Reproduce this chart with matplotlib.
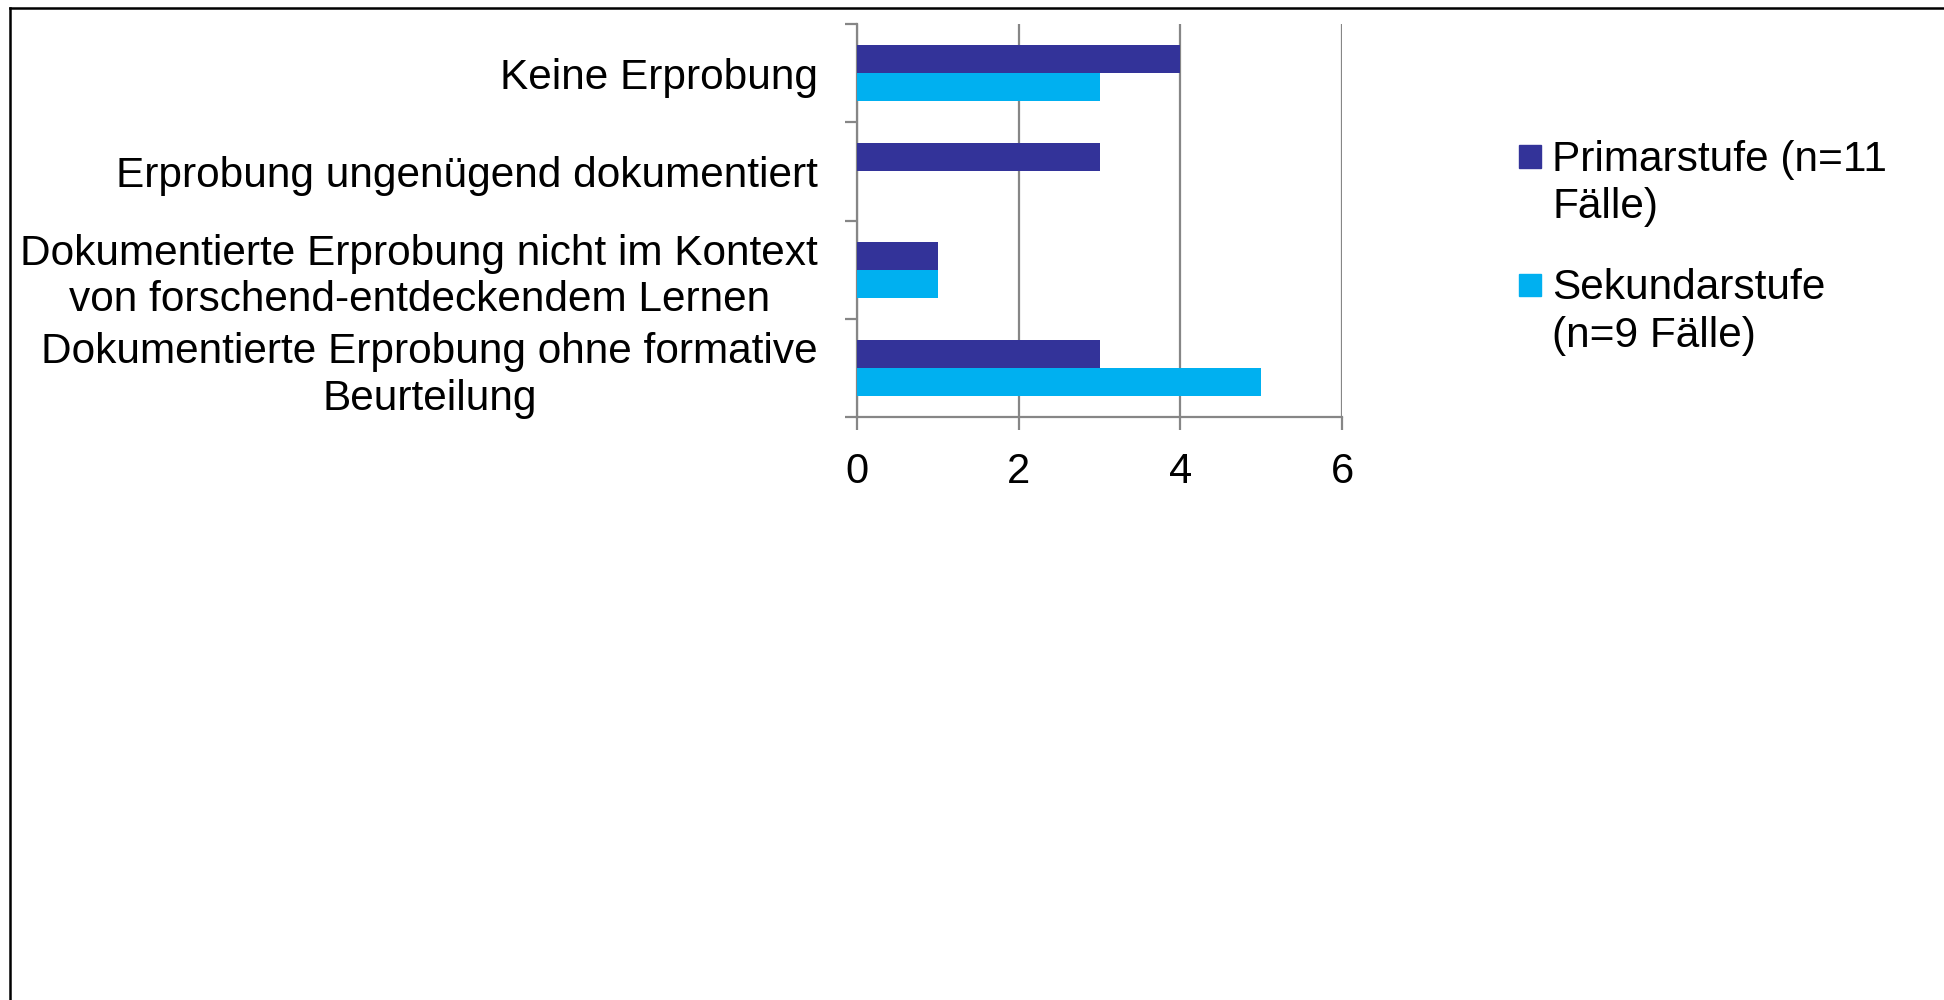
import matplotlib.pyplot as plt
import matplotlib.patches as mpatches
from matplotlib.lines import Line2D
import numpy as np

plt.rcParams['font.family'] = ['Liberation Sans', 'DejaVu Sans']

categories = ['Keine Erprobung',
              'Erprobung ungenügend dokumentiert',
              'Dokumentierte Erprobung nicht im Kontext\nvon forschend-entdeckendem Lernen',
              'Dokumentierte Erprobung ohne formative\nBeurteilung']
series = ['Primarstufe (n=11\nFälle)', 'Sekundarstufe\n(n=9 Fälle)']
primar = [4, 3, 1, 3]
sekundar = [3, 0, 1, 5]
colors = ['#333399', '#00B0F0']
xticks = [0, 2, 4, 6]

fig = plt.figure(figsize=(19.44, 10), dpi=100)
ax = fig.add_axes([857/1944, 1 - 417/1000, 485/1944, 393/1000])

y = np.arange(len(categories))
h = 0.286
ax.barh(y - h/2, primar, height=h, color=colors[0], zorder=3)
ax.barh(y + h/2, sekundar, height=h, color=colors[1], zorder=3)

ax.set_ylim(len(categories) - 0.5, -0.5)
ax.set_xlim(0, 6)
ax.set_xticks(xticks)
ax.set_xticklabels([str(t) for t in xticks])
ax.xaxis.grid(True, color='#868686', linewidth=1.6, zorder=0)

# category boundaries as y ticks, labels at centers
ax.set_yticks(np.arange(len(categories) + 1) - 0.5)
ax.set_yticklabels([])
ax.set_yticks(y, minor=True)
ax.set_yticklabels(categories, minor=True, fontsize=30.5, multialignment='center',
                   linespacing=1.2)
ax.tick_params(axis='y', which='minor', length=0, pad=28)
ax.tick_params(axis='y', which='major', length=9, width=1.6, color='#868686')
ax.tick_params(axis='x', length=9, width=1.6, color='#868686', labelsize=30, pad=16)

for s in ['top', 'right']:
    ax.spines[s].set_visible(False)
for s in ['left', 'bottom']:
    ax.spines[s].set_color('#868686')
    ax.spines[s].set_linewidth(1.6)

# legend drawn by hand so markers sit on the first text line
leg_y = [156.5/1000, 285/1000]
for i, name in enumerate(series):
    yy = 1 - leg_y[i]
    fig.add_artist(mpatches.Rectangle((1519/1944, yy - 11/1000), 22/1944, 22/1000,
                                      transform=fig.transFigure, color=colors[i]))
    fig.text(1552/1944, yy + 17/1000, name, fontsize=30.5, ha='left', va='top',
             linespacing=1.25)

# outer frame
fig.add_artist(Line2D([10/1944, 1], [1 - 7.5/1000, 1 - 7.5/1000], color='black', linewidth=1.8,
                      transform=fig.transFigure))
fig.add_artist(Line2D([10/1944, 10/1944], [0, 1 - 7.5/1000], color='black', linewidth=1.8,
                      transform=fig.transFigure))

fig.savefig('out.png', dpi=100, facecolor='white')
